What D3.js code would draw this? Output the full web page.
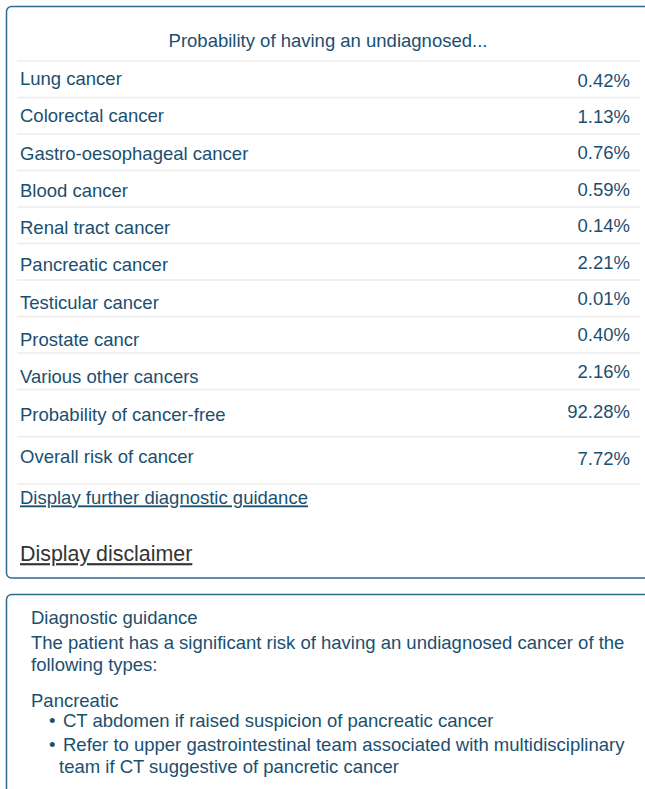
<!DOCTYPE html>
<html>
<head>
<meta charset="utf-8">
<script src="https://cdn.jsdelivr.net/npm/d3@7"></script>
<style>
  html, body { margin: 0; padding: 0; background: #fff; }
  svg { display: block; font-family: "Liberation Sans", Arial, Helvetica, sans-serif; }
</style>
</head>
<body>
<script>
// ---- data ----
const title = "Probability of having an undiagnosed...";
const cancerTypes = ["Lung cancer", "Colorectal cancer", "Gastro-oesophageal cancer", "Blood cancer",
  "Renal tract cancer", "Pancreatic cancer", "Testicular cancer", "Prostate cancr", "Various other cancers"];
const cancerValues = [0.42, 1.13, 0.76, 0.59, 0.14, 2.21, 0.01, 0.40, 2.16];
const summaryLabels = ["Probability of cancer-free", "Overall risk of cancer"];
const summaryValues = [92.28, 7.72];
const linkText = "Display further diagnostic guidance";
const disclaimerText = "Display disclaimer";
const guidanceTitle = "Diagnostic guidance";
const guidanceIntro = ["The patient has a significant risk of having an undiagnosed cancer of the", "following types:"];
const guidanceType = "Pancreatic";
const guidanceBullets = [
  ["CT abdomen if raised suspicion of pancreatic cancer"],
  ["Refer to upper gastrointestinal team associated with multidisciplinary", "team if CT suggestive of pancretic cancer"]
];

// ---- drawing ----
const W = 645, H = 789;
const textColor = "#1b4f6f", borderColor = "#2e6b8f", sepColor = "#ececec";
const fmt = d3.format(".2f");
const FS = 18.5;

const svg = d3.select("body").append("svg").attr("width", W).attr("height", H);

// panel 1
svg.append("rect").attr("x", 6.5).attr("y", 6.5).attr("width", 700).attr("height", 571.5)
  .attr("rx", 5).attr("fill", "none").attr("stroke", borderColor).attr("stroke-width", 1.5);

svg.append("text").attr("x", 328).attr("y", 42.5).attr("text-anchor", "middle")
  .attr("dominant-baseline", "middle").attr("font-size", 18.5).attr("fill", textColor).text(title);

const xL = 20, xR = 630, sepL = 17, sepR = 640;
const ySep = d3.scaleBand().domain(cancerTypes).range([61, 389.5]);
const yLab = d3.scaleBand().domain(cancerTypes).range([61.5, 397]);
const yVal = d3.scaleBand().domain(cancerTypes).range([63.5, 391]);
const ysSep = d3.scaleBand().domain(summaryLabels).range([389.5, 484]);
const ysLab = d3.scaleBand().domain(summaryLabels).range([395, 479]);
const ysVal = d3.scaleBand().domain(summaryLabels).range([390, 484]);

const rows = cancerTypes.map((c, i) => ({
    label: c, value: cancerValues[i], sep: ySep(c) + ySep.bandwidth(),
    ly: yLab(c) + yLab.bandwidth() / 2, vy: yVal(c) + yVal.bandwidth() / 2 }))
  .concat(summaryLabels.map((c, i) => ({
    label: c, value: summaryValues[i], sep: ysSep(c) + ysSep.bandwidth(),
    ly: ysLab(c) + ysLab.bandwidth() / 2, vy: ysVal(c) + ysVal.bandwidth() / 2 })));

svg.append("line").attr("x1", sepL).attr("x2", sepR).attr("y1", 61).attr("y2", 61)
  .attr("stroke", sepColor).attr("stroke-width", 1.5);

const g = svg.selectAll("g.row").data(rows).join("g").attr("class", "row");
g.append("line").attr("x1", sepL).attr("x2", sepR)
  .attr("y1", d => d.sep).attr("y2", d => d.sep)
  .attr("stroke", sepColor).attr("stroke-width", 1.5);
g.append("text").attr("x", xL).attr("y", d => d.ly)
  .attr("dominant-baseline", "middle").attr("font-size", FS).attr("fill", textColor).text(d => d.label);
g.append("text").attr("x", xR).attr("y", d => d.vy)
  .attr("text-anchor", "end").attr("dominant-baseline", "middle").attr("font-size", FS)
  .attr("fill", textColor).text(d => fmt(d.value) + "%");

svg.append("text").attr("x", xL).attr("y", 499.5).attr("dominant-baseline", "middle")
  .attr("font-size", FS).attr("fill", textColor).attr("text-decoration", "underline").text(linkText);
svg.append("text").attr("x", xL).attr("y", 555.5).attr("dominant-baseline", "middle")
  .attr("font-size", 21.4).attr("fill", "#333").attr("text-decoration", "underline").text(disclaimerText);

// panel 2
svg.append("rect").attr("x", 6.5).attr("y", 594.5).attr("width", 700).attr("height", 300)
  .attr("rx", 5).attr("fill", "none").attr("stroke", borderColor).attr("stroke-width", 1.5);

const gx = 31;
const lines = [];
lines.push({ t: guidanceTitle, x: gx, y: 619.5 });
guidanceIntro.forEach((t, i) => lines.push({ t, x: gx, y: 644.5 + i * 21.5 }));
lines.push({ t: guidanceType, x: gx, y: 702.5 });
let by = 722.5;
guidanceBullets.forEach(b => {
  lines.push({ t: "•", x: 49, y: by });
  b.forEach((t, j) => { lines.push({ t, x: 63 - (j > 0 ? 4 : 0), y: by }); by += 22; });
  by += 2;
});
svg.selectAll("text.gd").data(lines).join("text").attr("class", "gd")
  .attr("x", d => d.x).attr("y", d => d.y).attr("dominant-baseline", "middle")
  .attr("font-size", FS).attr("fill", textColor).text(d => d.t);
</script>
</body>
</html>
